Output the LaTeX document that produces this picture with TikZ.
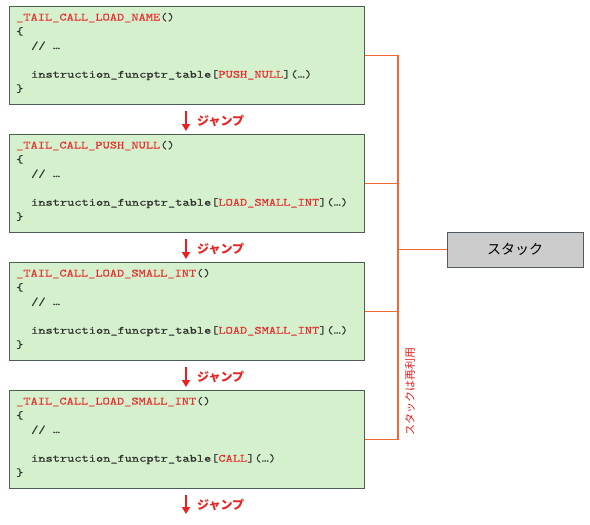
\documentclass[tikz,border=0pt]{standalone}
\usepackage{fontspec}
\newfontfamily\codefont{lmmono10-regular.otf}[FakeStretch=1.247,FakeBold=0.5]
\newfontfamily\cjk{Noto Sans CJK JP}
\usetikzlibrary{arrows.meta}
\definecolor{boxfill}{RGB}{212,240,204}
\definecolor{boxline}{RGB}{80,92,86}
\definecolor{codered}{RGB}{232,48,48}
\definecolor{codetext}{RGB}{50,50,50}
\definecolor{busline}{RGB}{238,106,50}
\definecolor{stackfill}{RGB}{204,204,204}
\definecolor{stackline}{RGB}{80,90,96}
\definecolor{jumpred}{RGB}{232,32,32}
\tikzset{
  codebox/.style={draw=boxline, fill=boxfill, line width=0.8pt, minimum width=355pt, minimum height=98pt, inner sep=0pt, anchor=north west},
  codeline/.style={anchor=base west, inner sep=0pt, text=codetext, font=\codefont\fontsize{11}{14}\selectfont},
  jumparrow/.style={draw=jumpred, line width=1.7pt, -{Triangle[width=8pt,length=7pt]}},
  jumplabel/.style={anchor=west, inner sep=0pt, text=jumpred, font=\cjk\bfseries\fontsize{12}{14}\selectfont},
  bus/.style={draw=busline, line width=1.2pt},
  stackbox/.style={draw=stackline, fill=stackfill, line width=0.8pt, minimum width=136pt, minimum height=35pt, inner sep=0pt, font=\cjk\fontsize{14}{16}\selectfont},
  reuselabel/.style={rotate=90, inner sep=0pt, text=jumpred, font=\cjk\fontsize{11}{12}\selectfont}
}
\newcommand\codeblock[4]{%
  \node[codebox] (#1) at (9,#2) {};
  \node[codeline] (#1a) at (16,#2+14.5) {{\color{codered}#3}()};
  \node[codeline] (#1b) at (16,#2+28.8) {\{};
  \node[codeline] (#1c) at (31,#2+43.1) {// …};
  \node[codeline] (#1d) at (31,#2+71.7) {instruction\_funcptr\_table[{\color{codered}#4}](…)};
  \node[codeline] (#1e) at (16,#2+86) {\}};
}
\begin{document}
\begin{tikzpicture}[x=1pt,y=-1pt]
\useasboundingbox (0,0) rectangle (590,525);
\codeblock{b1}{6}{\_TAIL\_CALL\_LOAD\_NAME}{PUSH\_NULL}
\codeblock{b2}{134}{\_TAIL\_CALL\_PUSH\_NULL}{LOAD\_SMALL\_INT}
\codeblock{b3}{262}{\_TAIL\_CALL\_LOAD\_SMALL\_INT}{LOAD\_SMALL\_INT}
\codeblock{b4}{390}{\_TAIL\_CALL\_LOAD\_SMALL\_INT}{CALL}

\coordinate (ax) at (186,0);
\coordinate (endpt) at (186,514);
\draw[jumparrow, shorten <=6pt, shorten >=3pt] (b1.south -| ax) -- (b2.north -| ax);
\draw[jumparrow, shorten <=6pt, shorten >=3pt] (b2.south -| ax) -- (b3.north -| ax);
\draw[jumparrow, shorten <=6pt, shorten >=3pt] (b3.south -| ax) -- (b4.north -| ax);
\draw[jumparrow, shorten <=6pt] (b4.south -| ax) -- (endpt);
\node[jumplabel] (j1) at (197,121) {ジャンプ};
\node[jumplabel] (j2) at (197,249) {ジャンプ};
\node[jumplabel] (j3) at (197,377) {ジャンプ};
\node[jumplabel] (j4) at (197,505) {ジャンプ};

\node[stackbox] (stack) at (515,249.5) {スタック};
\coordinate (busx) at (398,0);
\draw[bus] (b1.east) -- (b1.east -| busx) -- (b4.east -| busx) -- (b4.east);
\draw[bus] (b2.east) -- (b2.east -| busx);
\draw[bus] (b3.east) -- (b3.east -| busx);
\draw[bus] (stack.west) -- (stack.west -| busx);
\node[reuselabel] (reuse) at (410,391.5) {スタックは再利用};
\end{tikzpicture}
\end{document}
